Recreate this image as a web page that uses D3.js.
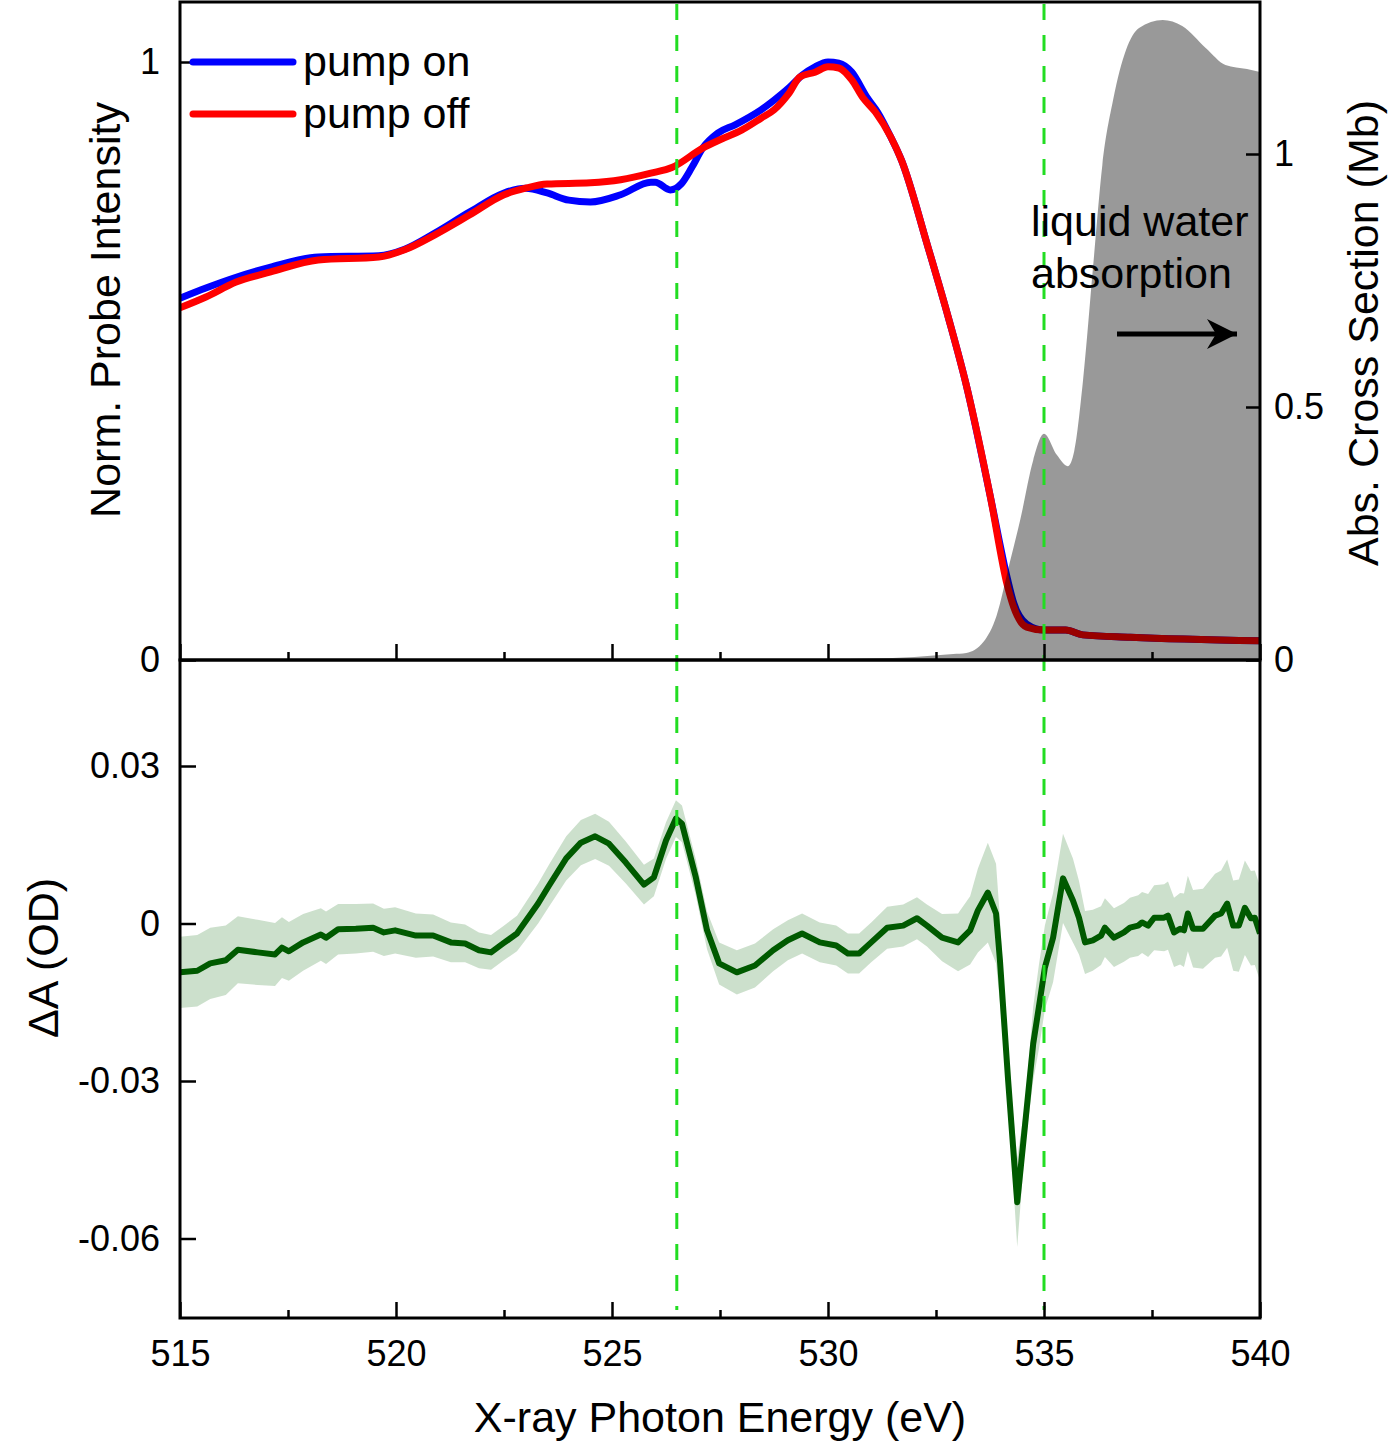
<!DOCTYPE html>
<html><head><meta charset="utf-8">
<script src="https://cdn.jsdelivr.net/npm/d3@7"></script>
<style>body{margin:0;background:#fff}svg{display:block}text{font-family:"Liberation Sans",Arial,sans-serif;fill:#000}</style>
</head><body><svg id="c" width="1400" height="1454"></svg>
<script>
// ---------- data ----------
const onEnergy = [515.0,515.6,516.3,517.1,518.2,519.6,520.2,520.9,521.7,522.5,523.0,523.5,524.0,524.5,525.2,525.9,526.0,526.35,526.6,526.85,527.1,527.45,527.85,528.45,528.75,529.1,529.4,529.7,530.0,530.25,530.55,530.9,531.15,531.45,531.7,532.3,532.8,533.2,533.75,534.15,534.3,534.6,535.0,535.5,535.9,537.0,540.0];
const pumpOn   = [0.605,0.622,0.640,0.657,0.674,0.676,0.687,0.714,0.749,0.781,0.789,0.781,0.769,0.766,0.778,0.799,0.799,0.786,0.796,0.824,0.856,0.881,0.895,0.920,0.936,0.957,0.978,0.992,1.000,0.998,0.983,0.941,0.916,0.875,0.836,0.694,0.569,0.460,0.276,0.137,0.095,0.060,0.050,0.050,0.042,0.038,0.032];
const offEnergy = [515.0,515.6,516.3,517.1,518.2,519.6,520.2,520.9,521.7,522.5,523.0,523.5,524.5,525.2,525.9,526.4,527.1,527.5,528.0,528.45,528.75,529.1,529.35,529.7,530.0,530.25,530.55,530.8,531.1,531.45,531.7,532.3,532.8,533.2,533.75,534.15,534.3,534.6,535.0,535.5,535.9,537.0,540.0];
const pumpOff   = [0.589,0.607,0.632,0.649,0.669,0.674,0.686,0.711,0.744,0.778,0.789,0.796,0.798,0.803,0.814,0.824,0.856,0.870,0.886,0.906,0.920,0.948,0.975,0.983,0.992,0.990,0.970,0.941,0.916,0.875,0.836,0.694,0.569,0.460,0.276,0.125,0.088,0.055,0.050,0.050,0.042,0.038,0.032];
const waterEnergy = [515.0,529.5,530.0,531.0,532.0,532.9,533.2,533.6,533.9,534.2,534.45,534.75,535.0,535.3,535.55,535.7,535.9,536.15,536.35,536.6,536.9,537.2,537.75,538.2,538.75,539.2,539.7,540.0];
const waterAbs    = [0,0,0.001,0.003,0.006,0.012,0.014,0.036,0.087,0.190,0.277,0.395,0.447,0.405,0.383,0.413,0.550,0.791,0.978,1.107,1.206,1.249,1.265,1.253,1.209,1.176,1.168,1.162];
const dEnergy = [515.0,515.4,515.7,516.06,516.34,516.8,517.2,517.36,517.52,517.85,518.26,518.38,518.66,519.07,519.47,519.72,519.98,520.46,520.86,521.27,521.6,521.92,522.2,522.48,522.8,523.29,523.54,523.94,524.28,524.61,524.93,525.32,525.74,525.97,526.25,526.48,526.62,526.94,527.2,527.48,527.89,528.31,528.73,529.07,529.4,529.81,530.19,530.46,530.72,531.0,531.37,531.74,532.06,532.29,532.64,533.01,533.29,533.47,533.7,533.89,533.98,534.17,534.38,534.56,534.75,534.88,535.02,535.21,535.44,535.67,535.81,535.95,536.13,536.32,536.41,536.62,536.85,536.99,537.18,537.27,537.41,537.55,537.78,537.87,538.01,538.15,538.24,538.33,538.45,538.68,538.96,539.1,539.24,539.38,539.51,539.65,539.79,539.88,540.0];
const deltaA = [-0.0093,-0.0090,-0.0076,-0.0070,-0.0050,-0.0055,-0.0059,-0.0046,-0.0053,-0.0036,-0.0021,-0.0027,-0.0011,-0.0010,-0.0008,-0.0017,-0.0013,-0.0023,-0.0023,-0.0036,-0.0038,-0.0051,-0.0055,-0.0038,-0.0019,0.0038,0.0072,0.0124,0.0154,0.0166,0.0152,0.0116,0.0074,0.0088,0.0158,0.0200,0.0190,0.0088,-0.0013,-0.0076,-0.0093,-0.0080,-0.0051,-0.0032,-0.0019,-0.0036,-0.0042,-0.0057,-0.0057,-0.0036,-0.0008,-0.0004,0.0010,-0.0004,-0.0027,-0.0036,-0.0013,0.0025,0.0059,0.0019,-0.0070,-0.0299,-0.0531,-0.0385,-0.0229,-0.0160,-0.0084,-0.0027,0.0086,0.0044,0.0011,-0.0036,-0.0032,-0.0023,-0.0008,-0.0027,-0.0017,-0.0008,-0.0004,0.0002,-0.0004,0.0011,0.0011,0.0015,-0.0017,-0.0010,-0.0013,0.0019,-0.0010,-0.0010,0.0015,0.0019,0.0038,-0.0004,-0.0004,0.0030,0.0010,0.0011,-0.0019];
const deltaErr = [0.0068,0.0068,0.0068,0.0066,0.0064,0.0062,0.0060,0.0058,0.0056,0.0054,0.0050,0.0050,0.0048,0.0047,0.0046,0.0045,0.0044,0.0042,0.0040,0.0038,0.0036,0.0034,0.0033,0.0033,0.0034,0.0038,0.0040,0.0042,0.0043,0.0043,0.0042,0.0040,0.0038,0.0036,0.0035,0.0035,0.0035,0.0035,0.0036,0.0040,0.0042,0.0042,0.0040,0.0038,0.0038,0.0038,0.0038,0.0038,0.0038,0.0038,0.0040,0.0040,0.0040,0.0040,0.0045,0.0055,0.0065,0.0080,0.0095,0.0095,0.0080,0.0040,0.0085,0.0040,0.0070,0.0080,0.0080,0.0085,0.0085,0.0080,0.0070,0.0060,0.0058,0.0056,0.0056,0.0056,0.0056,0.0057,0.0058,0.0058,0.0060,0.0062,0.0064,0.0065,0.0066,0.0068,0.0070,0.0072,0.0074,0.0076,0.0080,0.0082,0.0084,0.0086,0.0088,0.0090,0.0090,0.0090,0.0090];
const markerEnergies = [526.5, 535.0];
const xTicks = [515,520,525,530,535,540];
const xMinor = [517.5,522.5,527.5,532.5,537.5];
const topLeftTicks = [0,1];
const rightTicks = [0,0.5,1];
const botTicks = [0.03,0,-0.03,-0.06];
const botTickLabels = ['0.03','0','-0.03','-0.06'];
const rightTickLabels = ['0','0.5','1'];

// ---------- scales ----------
const L=180,R=1260,T=2,MID=660,B=1318;
const x = d3.scaleLinear().domain([515,540]).range([L,R]);
const yTop = d3.scaleLinear().domain([0,1]).range([MID,62]);
const yR = d3.scaleLinear().domain([0,1]).range([MID,154]);
const yB = d3.scaleLinear().domain([-0.03,0.03]).range([1081,766]);

const svg = d3.select('#c');
const defs = svg.append('defs');
defs.append('clipPath').attr('id','cTop').append('rect').attr('x',L).attr('y',T).attr('width',R-L).attr('height',MID-T);
defs.append('clipPath').attr('id','cBot').append('rect').attr('x',L).attr('y',MID).attr('width',R-L).attr('height',B-MID);

// ---------- top panel ----------
const gT = svg.append('g').attr('clip-path','url(#cTop)');
const lineOn = d3.line().x((d,i)=>x(onEnergy[i])).y(d=>yTop(d)).curve(d3.curveMonotoneX);
const lineOff = d3.line().x((d,i)=>x(offEnergy[i])).y(d=>yTop(d)).curve(d3.curveMonotoneX);
gT.append('path').attr('d',lineOn(pumpOn)).attr('fill','none').attr('stroke','#0000ff').attr('stroke-width',7).attr('stroke-linejoin','round');
gT.append('path').attr('d',lineOff(pumpOff)).attr('fill','none').attr('stroke','#ff0000').attr('stroke-width',7).attr('stroke-linejoin','round');
const area = d3.area().x((d,i)=>x(waterEnergy[i])).y0(yR(0)).y1(d=>yR(d)).curve(d3.curveMonotoneX);
gT.append('path').attr('d',area(waterAbs)).attr('fill','#000').attr('fill-opacity',0.4);

// ---------- bottom panel ----------
const gB = svg.append('g').attr('clip-path','url(#cBot)');
const band = d3.area().x((d,i)=>x(dEnergy[i])).y0((d,i)=>yB(d-deltaErr[i])).y1((d,i)=>yB(d+deltaErr[i]));
gB.append('path').attr('d',band(deltaA)).attr('fill','#006400').attr('fill-opacity',0.2);
const dline = d3.line().x((d,i)=>x(dEnergy[i])).y(d=>yB(d));
gB.append('path').attr('d',dline(deltaA)).attr('fill','none').attr('stroke','#005a00').attr('stroke-width',6).attr('stroke-linejoin','round');

// markers
svg.selectAll('.mk').data(markerEnergies).join('line')
  .attr('x1',d=>x(d)).attr('x2',d=>x(d)).attr('y1',4).attr('y2',1310)
  .attr('stroke','#22dd22').attr('stroke-width',3).attr('stroke-dasharray','16,15');

// ---------- axes ----------
const fs = 36;
function styleAxis(g){ g.select('.domain').remove(); g.selectAll('line').attr('stroke','#000').attr('stroke-width',2.5); g.selectAll('text').attr('font-size',fs).attr('font-family','Liberation Sans, Arial, sans-serif'); }
svg.append('g').attr('transform',`translate(0,${B})`).call(d3.axisBottom(x).tickValues(xTicks).tickSize(-16).tickPadding(22).tickFormat(d=>String(d))).call(styleAxis);
svg.append('g').attr('transform',`translate(0,${B})`).call(d3.axisBottom(x).tickValues(xMinor).tickSize(-8).tickFormat('')).call(styleAxis);
svg.append('g').attr('transform',`translate(0,${MID})`).call(d3.axisBottom(x).tickValues(xTicks).tickSize(-16).tickFormat('')).call(styleAxis);
svg.append('g').attr('transform',`translate(0,${MID})`).call(d3.axisBottom(x).tickValues(xMinor).tickSize(-8).tickFormat('')).call(styleAxis);
svg.append('g').attr('transform',`translate(${L},0)`).call(d3.axisLeft(yTop).tickValues(topLeftTicks).tickSize(-16).tickPadding(20).tickFormat(d=>String(d))).call(styleAxis);
svg.append('g').attr('transform',`translate(${R},0)`).call(d3.axisRight(yR).tickValues(rightTicks).tickSize(-14).tickPadding(14).tickFormat((d,i)=>rightTickLabels[i])).call(styleAxis);
svg.append('g').attr('transform',`translate(${L},0)`).call(d3.axisLeft(yB).tickValues(botTicks).tickSize(-16).tickPadding(20).tickFormat((d,i)=>botTickLabels[i])).call(styleAxis);

// frames
const frame = svg.append('g').attr('fill','none').attr('stroke','#000').attr('stroke-width',3);
frame.append('rect').attr('x',L).attr('y',T).attr('width',R-L).attr('height',MID-T);
frame.append('rect').attr('x',L).attr('y',MID).attr('width',R-L).attr('height',B-MID);

// ---------- titles ----------
const tf = 43;
svg.append('text').attr('transform','translate(120,310) rotate(-90)').attr('text-anchor','middle').attr('font-size',tf).text('Norm. Probe Intensity');
svg.append('text').attr('transform','translate(1378,333) rotate(-90)').attr('text-anchor','middle').attr('font-size',tf).text('Abs. Cross Section (Mb)');
svg.append('text').attr('transform','translate(58,958) rotate(-90)').attr('text-anchor','middle').attr('font-size',tf).text('\u0394A (OD)');
svg.append('text').attr('x',720).attr('y',1432).attr('text-anchor','middle').attr('font-size',tf).text('X-ray Photon Energy (eV)');

// legend
const legend = [{name:'pump on',color:'#0000ff'},{name:'pump off',color:'#ff0000'}];
legend.forEach((d,i)=>{
  const yy = 62 + i*52;
  svg.append('line').attr('x1',193).attr('x2',293).attr('y1',yy).attr('y2',yy).attr('stroke',d.color).attr('stroke-width',7).attr('stroke-linecap','round');
  svg.append('text').attr('x',303).attr('y',yy+14).attr('font-size',tf).text(d.name);
});

// annotation
svg.append('text').attr('x',1031).attr('y',236).attr('font-size',tf).text('liquid water');
svg.append('text').attr('x',1031).attr('y',288).attr('font-size',tf).text('absorption');
defs.append('marker').attr('id','ah').attr('viewBox','0 0 10 10').attr('refX',10).attr('refY',5).attr('markerWidth',8).attr('markerHeight',6).attr('orient','auto').attr('markerUnits','strokeWidth')
  .append('path').attr('d','M0,0 L10,5 L0,10 L3,5 Z').attr('fill','#000');
svg.append('line').attr('x1',1117).attr('x2',1237).attr('y1',334).attr('y2',334).attr('stroke','#000').attr('stroke-width',5).attr('marker-end','url(#ah)');
</script></body></html>
